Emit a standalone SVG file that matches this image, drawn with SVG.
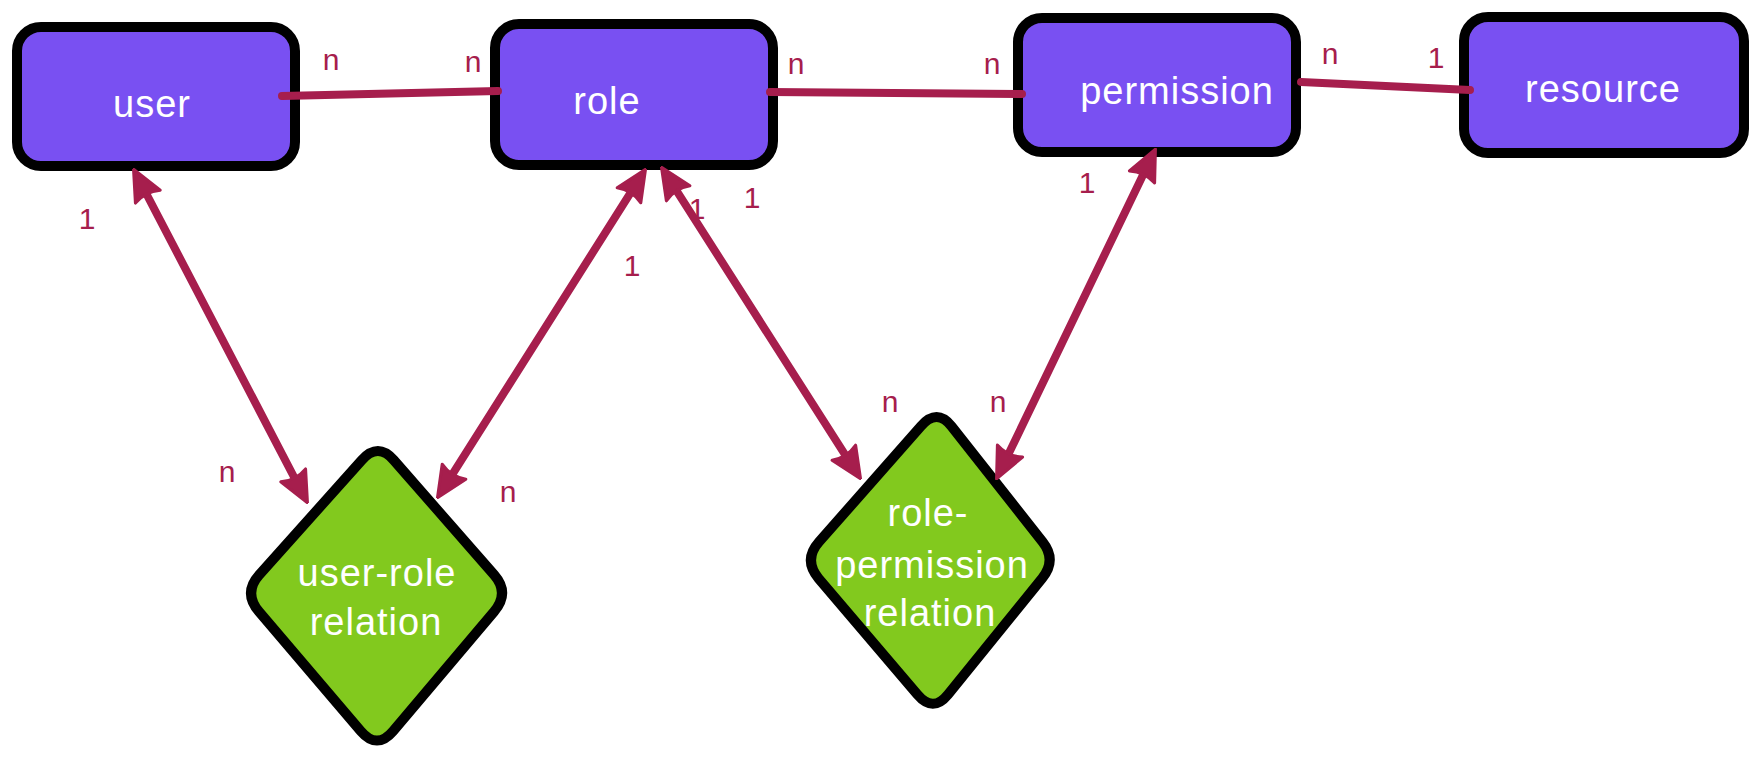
<svg xmlns="http://www.w3.org/2000/svg" width="1760" height="778" viewBox="0 0 1760 778">
<style>
.box{fill:#7950f2;stroke:#000;stroke-width:10;stroke-linejoin:round}
.dia{fill:#82c91e;stroke:#000;stroke-width:10;stroke-linejoin:round}
.nt{font-family:"Liberation Sans",Arial,sans-serif;font-size:38px;letter-spacing:1px;fill:#fff;text-anchor:middle}
.ln{stroke:#a61e4d;stroke-width:8;stroke-linecap:round;fill:none}
.lb{font-family:"Liberation Sans",Arial,sans-serif;font-size:30px;fill:#a61e4d;text-anchor:middle}
</style>
<defs>
<marker id="ah" viewBox="0 0 34 32" refX="14" refY="16" markerWidth="34" markerHeight="32" markerUnits="userSpaceOnUse" orient="auto-start-reverse">
<path d="M2,2 L33,16 L2,30 Q8,16 2,2Z" fill="#a61e4d" stroke="#a61e4d" stroke-width="3" stroke-linejoin="round"/>
</marker>
</defs>
<rect width="1760" height="778" fill="#fff"/>
<g id="user"><rect class="box" x="17" y="27" width="278" height="139" rx="24"/><text class="nt" x="152" y="117">user</text></g>
<g id="role"><rect class="box" x="495" y="24" width="278" height="141" rx="24"/><text class="nt" x="607" y="114">role</text></g>
<g id="permission"><rect class="box" x="1018" y="18" width="278" height="134" rx="24"/><text class="nt" x="1177" y="104">permission</text></g>
<g id="resource"><rect class="box" x="1464" y="17" width="280" height="136" rx="24"/><text class="nt" x="1603" y="102">resource</text></g>
<g id="user-role-relation"><path class="dia" d="M393.8,460.1 L494.2,574.9 Q510,593 494,611.8 L393,731.2 Q377,750 360.9,731.2 L259.1,611.8 Q243,593 259.2,574.9 L361.8,460.1 Q378,442 393.8,460.1 Z"/><text class="nt" x="377" y="586">user-role</text><text class="nt" x="376" y="635">relation</text></g>
<g id="role-permission-relation"><path class="dia" d="M951.4,426.2 L1042.6,541.8 Q1057,560 1042.1,578.4 L947.9,694.6 Q933,713 917.4,694.6 L818.6,578.4 Q803,560 819.1,541.8 L920.9,426.2 Q937,408 951.4,426.2 Z"/><text class="nt" x="928" y="526">role-</text><text class="nt" x="932" y="578">permission</text><text class="nt" x="930" y="626">relation</text></g>
<g id="connectors">
<line class="ln" x1="282" y1="96" x2="498" y2="91"/>
<line class="ln" x1="770" y1="92" x2="1022" y2="94"/>
<line class="ln" x1="1301" y1="82" x2="1470" y2="90"/>
<line class="ln" x1="142.3" y1="186" x2="298.7" y2="486" marker-start="url(#ah)" marker-end="url(#ah)"/>
<line class="ln" x1="635.4" y1="185.2" x2="447.6" y2="481.8" marker-start="url(#ah)" marker-end="url(#ah)"/>
<line class="ln" x1="671.7" y1="183.2" x2="850.3" y2="462.8" marker-start="url(#ah)" marker-end="url(#ah)"/>
<line class="ln" x1="1147.2" y1="166.2" x2="1004.8" y2="461.8" marker-start="url(#ah)" marker-end="url(#ah)"/>
</g>
<g id="labels">
<text class="lb" x="331" y="70">n</text>
<text class="lb" x="473" y="72">n</text>
<text class="lb" x="796" y="74">n</text>
<text class="lb" x="992" y="74">n</text>
<text class="lb" x="1330" y="64">n</text>
<text class="lb" x="1436" y="68">1</text>
<text class="lb" x="87" y="229">1</text>
<text class="lb" x="227" y="482">n</text>
<text class="lb" x="632" y="276">1</text>
<text class="lb" x="508" y="502">n</text>
<text class="lb" x="697" y="219">1</text>
<text class="lb" x="752" y="208">1</text>
<text class="lb" x="890" y="412">n</text>
<text class="lb" x="998" y="412">n</text>
<text class="lb" x="1087" y="193">1</text>
</g>
</svg>
